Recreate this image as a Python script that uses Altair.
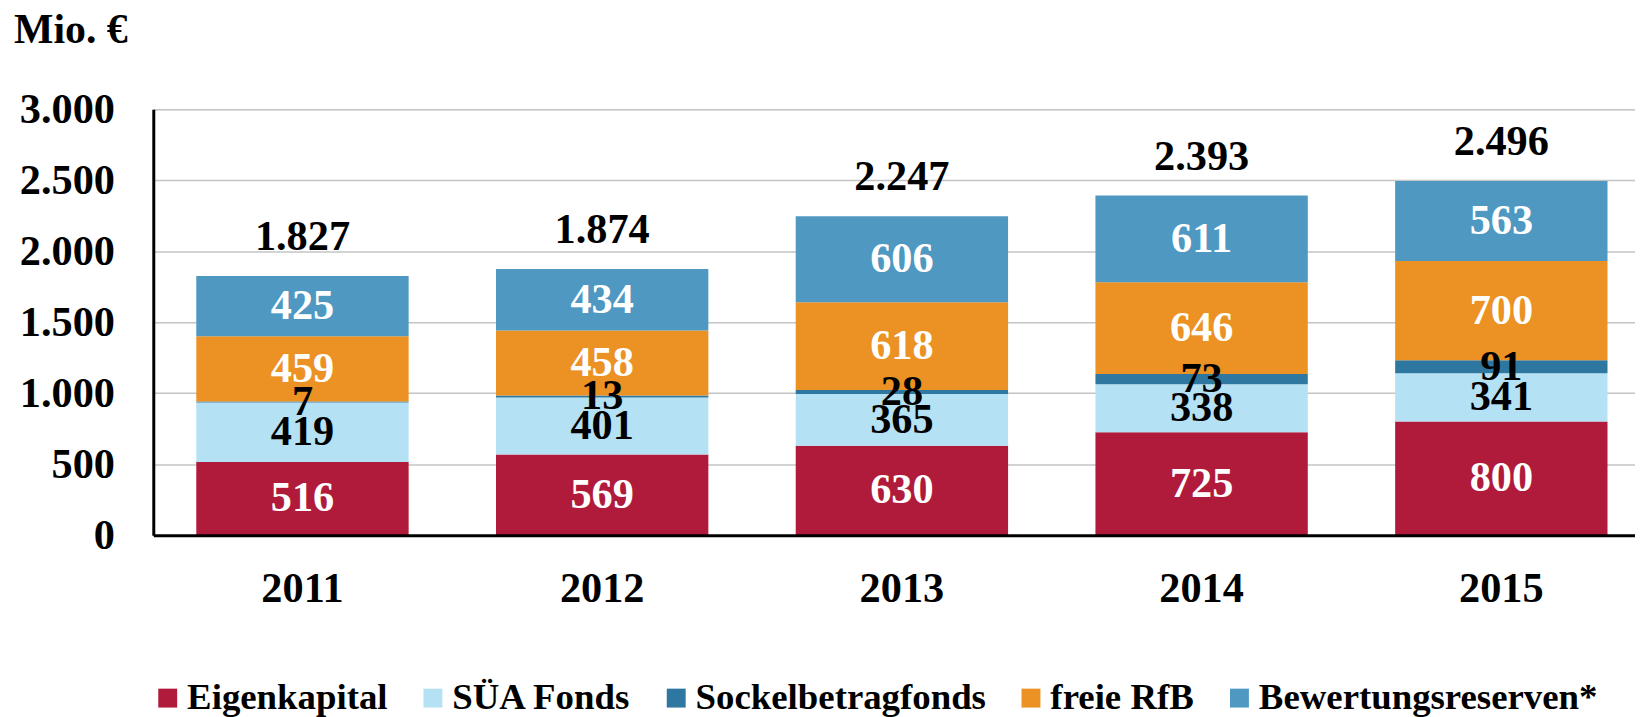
import altair as alt
import pandas as pd

years = ["2011", "2012", "2013", "2014", "2015"]
series = ["Eigenkapital", "SÜA Fonds", "Sockelbetragfonds", "freie RfB", "Bewertungsreserven*"]
eigenkapital = [516, 569, 630, 725, 800]
suea_fonds = [419, 401, 365, 338, 341]
sockel = [7, 13, 28, 73, 91]
freie_rfb = [459, 458, 618, 646, 700]
bewertung = [425, 434, 606, 611, 563]
totals = [1827, 1874, 2247, 2393, 2496]
total_labels = ["1.827", "1.874", "2.247", "2.393", "2.496"]

colors = ["#B01A3B", "#B5E1F4", "#2E77A1", "#EC9123", "#4E98C1"]
label_colors = ["white", "black", "black", "white", "white"]

rows = []
for si, (name, vals) in enumerate(zip(series, [eigenkapital, suea_fonds, sockel, freie_rfb, bewertung])):
    for y, v in zip(years, vals):
        rows.append({"year": y, "series": name, "value": v, "order": si, "tc": label_colors[si]})
df = pd.DataFrame(rows)
tot_df = pd.DataFrame({"year": years, "total": totals, "label": total_labels})

FONT = "Liberation Serif"
FS = 42.5

x_enc = alt.X("year:N", title=None,
              scale=alt.Scale(paddingInner=0.2915, paddingOuter=0.1176, align=0.61),
              axis=alt.Axis(labelFontSize=FS, labelFont=FONT, labelFontWeight="bold",
                            labelColor="black", labelAngle=0, ticks=False, labelPadding=33,
                            domainColor="black", domainWidth=3, zindex=1))
y_scale = alt.Scale(domain=[0, 3000], nice=False)

base = alt.Chart(df).transform_stack(
    stack="value", groupby=["year"], as_=["v0", "v1"],
    sort=[alt.SortField("order", order="ascending")]
).transform_calculate(mid="(datum.v0 + datum.v1) / 2")

bars = base.mark_bar(strokeWidth=0).encode(
    x=x_enc,
    y=alt.Y("v0:Q", scale=y_scale, title=None,
            axis=alt.Axis(values=[0, 500, 1000, 1500, 2000, 2500, 3000],
                          labelExpr="replace(format(datum.value, ','), ',', '.')",
                          labelFontSize=FS, labelFont=FONT, labelFontWeight="bold",
                          labelColor="black", ticks=False, labelPadding=39,
                          domainColor="black", domainWidth=3,
                          grid=True, gridColor="#C4C4C4", gridWidth=1.5)),
    y2="v1:Q",
    color=alt.Color("series:N", scale=alt.Scale(domain=series, range=colors),
                    sort=series,
                    legend=alt.Legend(title=None, orient="none", direction="horizontal",
                                      legendX=-4, legendY=573,
                                      symbolType="square", symbolSize=361, symbolStrokeWidth=0,
                                      labelFont=FONT, labelFontSize=37, labelFontWeight="bold",
                                      labelColor="black", labelOffset=1, columnPadding=26.5,
                                      labelLimit=1000, padding=0)),
)

seg_labels = base.mark_text(font=FONT, fontSize=FS, fontWeight="bold", baseline="middle").encode(
    x="year:N",
    y=alt.Y("mid:Q", scale=y_scale),
    text="value:Q",
    color=alt.Color("tc:N", scale=None),
)

tot_text = alt.Chart(tot_df).mark_text(font=FONT, fontSize=FS, fontWeight="bold",
                                       baseline="alphabetic", dy=-26, color="black").encode(
    x="year:N",
    y=alt.Y("total:Q", scale=y_scale),
    text="label:N",
)

unit = alt.Chart(pd.DataFrame({"t": ["Mio. €"]})).mark_text(
    font=FONT, fontSize=42, fontWeight="bold", align="left", baseline="alphabetic", color="black"
).encode(x=alt.value(-140), y=alt.value(-67), text="t:N")

chart = alt.layer(bars, seg_labels, tot_text, unit).properties(
    width=1489, height=428,
    autosize=alt.AutoSizeParams(type="none"),
    padding={"left": 146, "top": 100, "right": 0, "bottom": 185},
).configure_view(stroke=None).configure(background="white")

chart.save("out.html", embed_options={"renderer": "svg", "actions": False})
